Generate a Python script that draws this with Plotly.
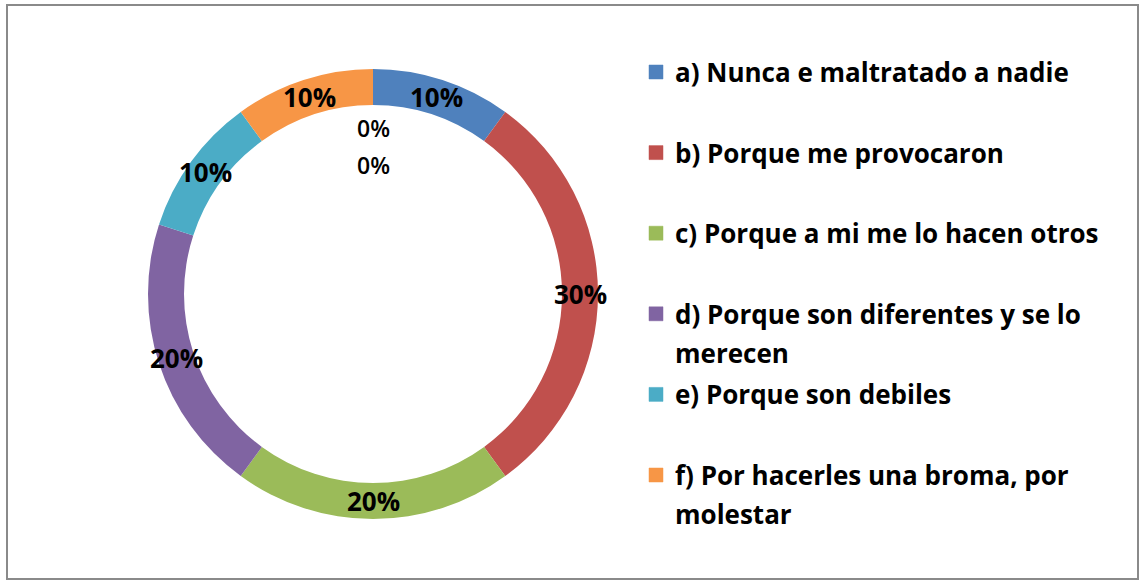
import math
import plotly.graph_objects as go

categorias = [
    "a) Nunca e maltratado a nadie",
    "b) Porque me provocaron",
    "c) Porque a mi me lo hacen otros",
    "d) Porque son diferentes y se lo<br>merecen",
    "e) Porque son debiles",
    "f) Por hacerles una broma, por<br>molestar",
]
porcentajes = [10, 30, 20, 20, 10, 10]
# two extra categories with no answers (shown only as 0% labels)
porcentajes_cero = [0, 0]
colores = ["#4F81BD", "#C0504D", "#9BBB59", "#8064A2", "#4BACC6", "#F79646"]

W, H = 1140, 582
cx, cy, r_out = 373, 294, 225
hole = 0.84
font = "'Open Sans', 'Noto Sans', sans-serif"


def px(x, y):
    return x / W, 1 - y / H


fig = go.Figure()
fig.add_trace(
    go.Pie(
        labels=[c.replace("<br>", " ") for c in categorias],
        values=porcentajes,
        hole=hole,
        sort=False,
        direction="clockwise",
        rotation=0,
        marker=dict(colors=colores, line=dict(width=0)),
        textinfo="none",
        hoverinfo="label+percent",
        showlegend=False,
        domain=dict(
            x=[(cx - r_out) / W, (cx + r_out) / W],
            y=[1 - (cy + r_out) / H, 1 - (cy - r_out) / H],
        ),
    )
)

# data labels on the ring midline
r_mid = r_out * (1 + hole) / 2
total = sum(porcentajes) + sum(porcentajes_cero)
acum = 0
for v in porcentajes:
    ang = 2 * math.pi * (acum + v / 2) / total
    acum += v
    x, y = px(cx + r_mid * math.sin(ang), cy - r_mid * math.cos(ang))
    fig.add_annotation(
        x=x, y=y, xref="paper", yref="paper", showarrow=False,
        xanchor="center", yanchor="middle",
        text="<b>%d%%</b>" % round(100 * v / total),
        font=dict(family=font, size=26, color="black"),
    )

for i, v in enumerate(porcentajes_cero):
    x, y = px(cx, 128 + 37 * i)
    fig.add_annotation(
        x=x, y=y, xref="paper", yref="paper", showarrow=False,
        xanchor="center", yanchor="middle",
        text="%d%%" % v,
        font=dict(family=font, size=23, color="black", weight=600),
    )

# legend drawn by hand to match the even spacing
for i, (cat, col) in enumerate(zip(categorias, colores)):
    yc = 72 + i * 80.6
    x0, y0 = px(649, yc - 7)
    x1, y1 = px(663, yc + 7)
    fig.add_shape(
        type="rect", xref="paper", yref="paper",
        x0=x0, x1=x1, y0=y1, y1=y0,
        fillcolor=col, line=dict(color=col, width=0.5),
    )
    for k, linea in enumerate(cat.split("<br>")):
        tx, ty = px(673, yc + k * 39)
        fig.add_annotation(
            x=tx, y=ty, xref="paper", yref="paper", showarrow=False,
            xanchor="left", yanchor="middle",
            text="<b>%s</b>" % linea,
            font=dict(family=font, size=26, color="black"),
        )

# outer frame
fx0, fy0 = px(7, 5)
fx1, fy1 = px(1138, 579)
fig.add_shape(
    type="rect", xref="paper", yref="paper",
    x0=fx0, x1=fx1, y0=fy1, y1=fy0,
    line=dict(color="#8a8a8a", width=2),
)

fig.update_layout(
    width=W, height=H,
    margin=dict(l=0, r=0, t=0, b=0),
    paper_bgcolor="white",
    plot_bgcolor="white",
)

fig.write_html(
    "out.html",
    config=dict(displayModeBar=False),
    post_script="document.body.style.margin='0';document.body.style.overflow='hidden';",
)
